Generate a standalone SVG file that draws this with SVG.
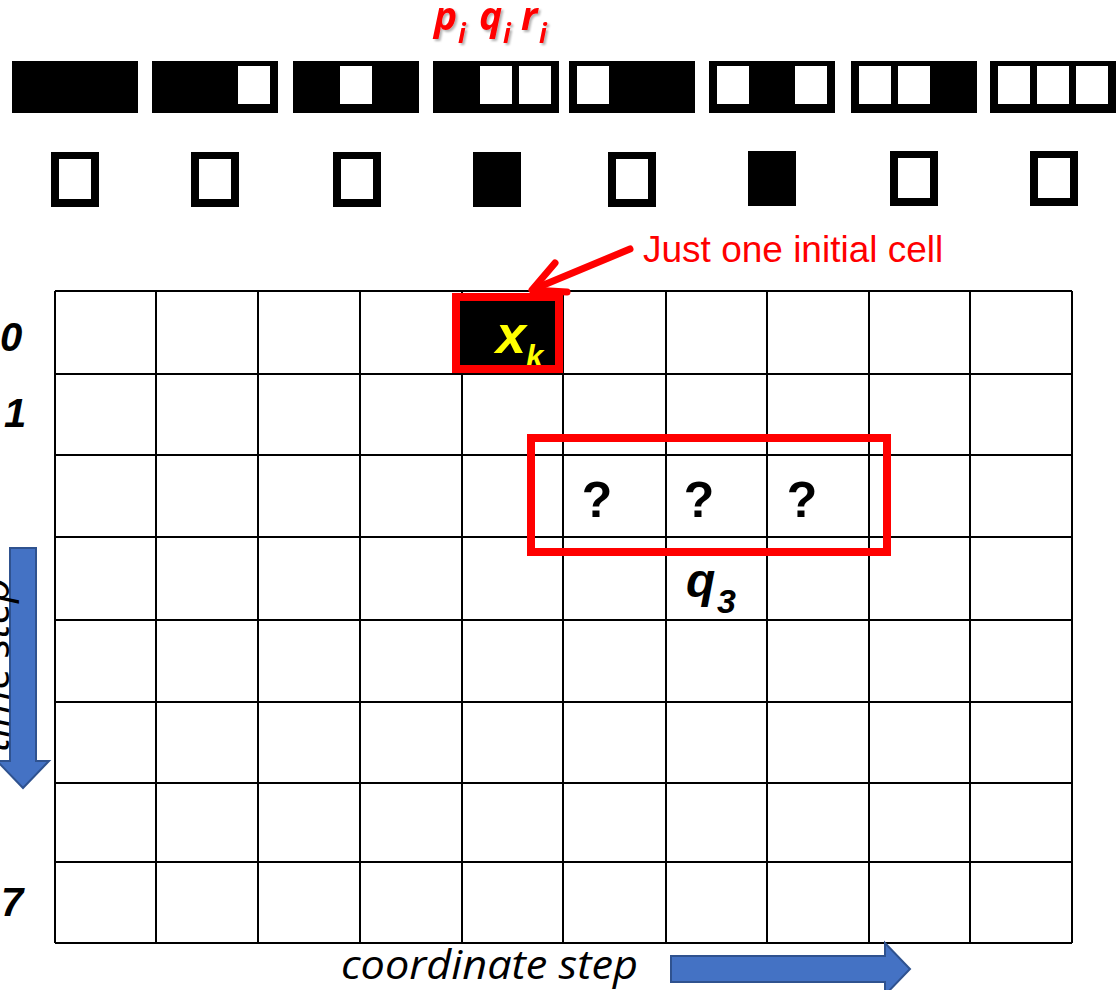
<svg xmlns="http://www.w3.org/2000/svg" width="1118" height="990" viewBox="0 0 1118 990">
  <defs>
    <style>
      .grid line { stroke: #000; stroke-width: 2; }
      .bar { fill: #000; }
      .win { fill: #fff; }
      .blue { fill: #4472C4; stroke: #2F528F; stroke-width: 2; }
      .red-box { fill: none; stroke: #FF0000; stroke-width: 8; }
      .bi { font-family: "Liberation Sans", Arial, sans-serif; font-weight: bold; font-style: italic; }
      .b { font-family: "Liberation Sans", Arial, sans-serif; font-weight: bold; }
      .axis { font-family: "Open Sans", "Liberation Sans", sans-serif; font-style: italic; font-size: 40px; fill: #000; }
      .pqr { font-family: "Open Sans", "Liberation Sans", sans-serif; font-weight: bold; font-style: italic; fill: #FF0000; }
    </style>
    <filter id="soft-shadow" x="-10%" y="-10%" width="130%" height="140%">
      <feDropShadow dx="2" dy="2" stdDeviation="1" flood-color="#000" flood-opacity="0.3"/>
    </filter>
  </defs>

  <rect width="1118" height="990" fill="#fff"/>

  <!-- neighbourhood label -->
  <g id="pqr-label" class="pqr" filter="url(#soft-shadow)">
    <text x="434" y="30" font-size="39">p</text>
    <text x="458" y="43" font-size="26">i</text>
    <text x="479" y="30" font-size="39">q</text>
    <text x="503" y="43" font-size="26">i</text>
    <text x="521" y="30" font-size="39">r</text>
    <text x="539" y="43" font-size="26">i</text>
  </g>

  <!-- eight neighbourhood patterns (black = 1, white window = 0) -->
  <g id="patterns">
    <g id="pattern-111"><rect class="bar" x="12" y="61" width="126" height="52"/></g>
    <g id="pattern-110"><rect class="bar" x="152" y="61" width="126" height="52"/>
      <rect class="win" x="238" y="66" width="32" height="38"/></g>
    <g id="pattern-101"><rect class="bar" x="293" y="61" width="126" height="52"/>
      <rect class="win" x="340" y="66" width="32" height="38"/></g>
    <g id="pattern-100"><rect class="bar" x="433" y="61" width="126" height="52"/>
      <rect class="win" x="480" y="66" width="32" height="38"/>
      <rect class="win" x="519" y="66" width="32" height="38"/></g>
    <g id="pattern-011"><rect class="bar" x="569" y="61" width="126" height="52"/>
      <rect class="win" x="577" y="66" width="32" height="38"/></g>
    <g id="pattern-010"><rect class="bar" x="709" y="61" width="126" height="52"/>
      <rect class="win" x="717" y="66" width="32" height="38"/>
      <rect class="win" x="795" y="66" width="32" height="38"/></g>
    <g id="pattern-001"><rect class="bar" x="851" y="61" width="126" height="52"/>
      <rect class="win" x="859" y="66" width="32" height="38"/>
      <rect class="win" x="898" y="66" width="32" height="38"/></g>
    <g id="pattern-000"><rect class="bar" x="990" y="61" width="126" height="52"/>
      <rect class="win" x="998" y="66" width="32" height="38"/>
      <rect class="win" x="1037" y="66" width="32" height="38"/>
      <rect class="win" x="1076" y="66" width="32" height="38"/></g>
  </g>

  <!-- resulting cell for each pattern -->
  <g id="outputs">
    <g id="out-1"><rect class="bar" x="51" y="152" width="48" height="55"/><rect class="win" x="59" y="159" width="32" height="40"/></g>
    <g id="out-2"><rect class="bar" x="191" y="152" width="48" height="55"/><rect class="win" x="199" y="159" width="32" height="40"/></g>
    <g id="out-3"><rect class="bar" x="333" y="152" width="48" height="55"/><rect class="win" x="341" y="159" width="32" height="40"/></g>
    <g id="out-4"><rect class="bar" x="473" y="152" width="48" height="55"/></g>
    <g id="out-5"><rect class="bar" x="608" y="152" width="48" height="55"/><rect class="win" x="616" y="159" width="32" height="40"/></g>
    <g id="out-6"><rect class="bar" x="748" y="151" width="48" height="55"/></g>
    <g id="out-7"><rect class="bar" x="890" y="151" width="48" height="55"/><rect class="win" x="898" y="158" width="32" height="40"/></g>
    <g id="out-8"><rect class="bar" x="1030" y="151" width="48" height="55"/><rect class="win" x="1038" y="158" width="32" height="40"/></g>
  </g>

  <!-- space-time grid: 10 columns x 8 rows -->
  <g id="grid" class="grid">
    <line x1="55" y1="291" x2="1072" y2="291"/>
    <line x1="55" y1="374" x2="1072" y2="374"/>
    <line x1="55" y1="455" x2="1072" y2="455"/>
    <line x1="55" y1="537" x2="1072" y2="537"/>
    <line x1="55" y1="620" x2="1072" y2="620"/>
    <line x1="55" y1="702" x2="1072" y2="702"/>
    <line x1="55" y1="783" x2="1072" y2="783"/>
    <line x1="55" y1="862" x2="1072" y2="862"/>
    <line x1="55" y1="943" x2="1072" y2="943"/>
    <line x1="55" y1="291" x2="55" y2="943"/>
    <line x1="156" y1="291" x2="156" y2="943"/>
    <line x1="258" y1="291" x2="258" y2="943"/>
    <line x1="360" y1="291" x2="360" y2="943"/>
    <line x1="462" y1="291" x2="462" y2="943"/>
    <line x1="563" y1="291" x2="563" y2="943"/>
    <line x1="666" y1="291" x2="666" y2="943"/>
    <line x1="767" y1="291" x2="767" y2="943"/>
    <line x1="869" y1="291" x2="869" y2="943"/>
    <line x1="970" y1="291" x2="970" y2="943"/>
    <line x1="1072" y1="291" x2="1072" y2="943"/>
  </g>

  <!-- row labels -->
  <g id="row-labels" class="bi" font-size="40" fill="#000">
    <text x="0" y="351">0</text>
    <text x="4" y="427">1</text>
    <text x="1" y="916">7</text>
  </g>

  <!-- initial cell -->
  <g id="initial-cell">
    <rect x="456" y="297" width="103" height="72" fill="#000"/>
    <text class="bi" x="496" y="353" font-size="54" fill="#FFFF00">x</text>
    <text class="bi" x="526" y="367" font-size="31" fill="#FFFF00">k</text>
    <rect class="red-box" x="456" y="297" width="103" height="72"/>
  </g>

  <!-- unknown cells of the third row -->
  <g id="unknown-cells">
    <text class="b" x="597" y="517" font-size="50" text-anchor="middle">?</text>
    <text class="b" x="699" y="517" font-size="50" text-anchor="middle">?</text>
    <text class="b" x="802" y="517" font-size="50" text-anchor="middle">?</text>
    <rect class="red-box" x="531" y="438" width="356" height="114"/>
  </g>

  <g id="q3-label" class="bi" fill="#000">
    <text x="686" y="597" font-size="48">q</text>
    <text x="717" y="613" font-size="34">3</text>
  </g>

  <g id="callout">
    <text x="643" y="262" font-family="'Liberation Sans', Arial, sans-serif" font-size="37" fill="#FF0000">Just one initial cell</text>
  </g>

  <!-- connectors -->
  <g id="connectors">
    <g id="callout-arrow" fill="none" stroke="#FF0000" stroke-width="7" stroke-linecap="round" stroke-linejoin="round">
      <line x1="630" y1="249" x2="534" y2="289"/>
      <polyline points="555,263 532,290 567,292"/>
    </g>
    <polygon id="time-arrow" class="blue" points="10,548 36,548 36,761 49,761 23,788 -3,761 10,761"/>
    <polygon id="coord-arrow" class="blue" points="671,956 885,956 885,943 910,969 885,995 885,982 671,982"/>
  </g>

  <!-- axis captions -->
  <g id="axis-labels">
    <text class="axis" transform="translate(9,752) rotate(-90)" textLength="174" lengthAdjust="spacingAndGlyphs">time step</text>
    <text class="axis" x="341" y="979" textLength="297" lengthAdjust="spacingAndGlyphs">coordinate step</text>
  </g>
</svg>
